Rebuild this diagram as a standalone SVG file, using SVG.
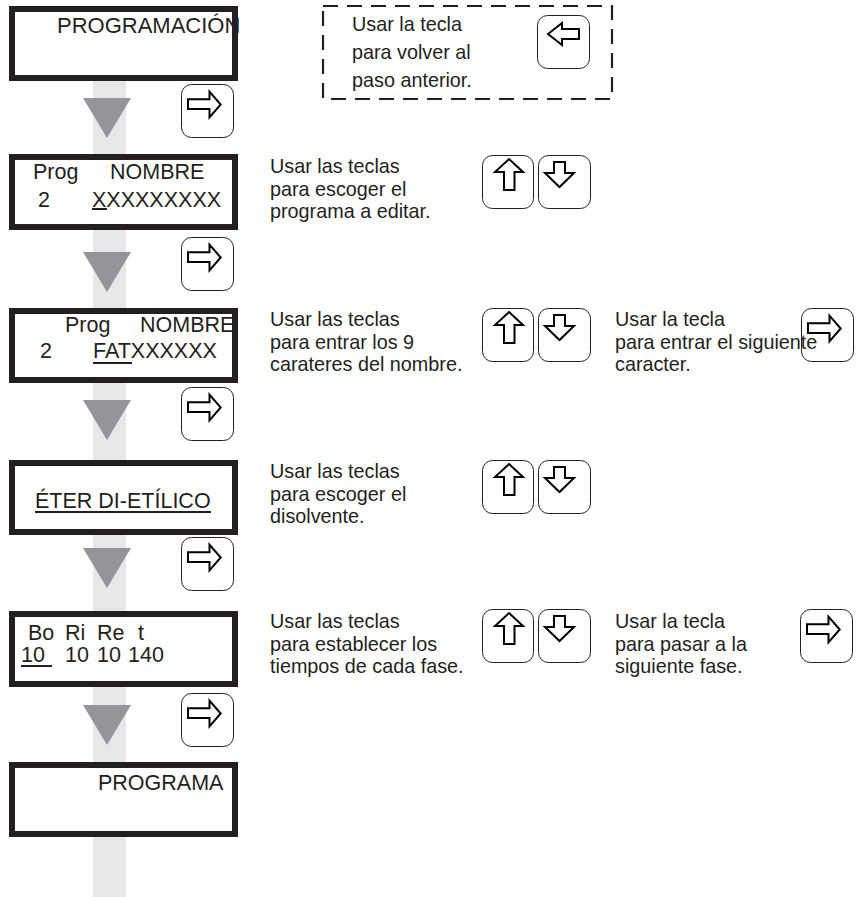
<svg xmlns="http://www.w3.org/2000/svg" width="860" height="897" viewBox="0 0 860 897">
<style>
.lcd{fill:#fff;stroke:#231f20;stroke-width:6}
.lt{font-family:"Liberation Sans",Arial,sans-serif;font-size:21.5px;fill:#231f20}
.ds{font-family:"Liberation Sans",Arial,sans-serif;font-size:19.8px;fill:#231f20}
.ul{stroke:#231f20;stroke-width:2}
.key{fill:#fff;stroke:#231f20;stroke-width:1}
.arw{fill:#fff;stroke:#000;stroke-width:2;stroke-linejoin:miter}
.tri{fill:#939598}
</style>
<defs>
<g id="kR"><rect class="key" x="0.5" y="0.5" width="52" height="53" rx="10"/><path class="arw" d="M7,15.3 H28.5 V7.7 L39.7,20.5 L28.5,33.3 V25 H7 Z"/></g>
<g id="kL"><rect class="key" x="0.5" y="0.5" width="52" height="53" rx="10"/><path class="arw" d="M42,14 H25 V8 L11,19 L25,30 V24 H42 Z"/></g>
<g id="kU"><rect class="key" x="0.5" y="0.5" width="51" height="53" rx="10"/><path class="arw" d="M27,4 L41,17 H32.5 V35 H22 V17 H13 Z"/></g>
<g id="kD"><rect class="key" x="0.5" y="0.5" width="52" height="53" rx="10"/><path class="arw" d="M16,7 H27 V18 H36 L21.5,32 L7,18 H16 Z"/></g>
</defs>
<rect width="860" height="897" fill="#fff"/>
<g id="connectors">
<rect x="93" y="81" width="33" height="816" fill="#e6e7e8"/>
<polygon class="tri" points="83,98 131,98 107,138"/>
<polygon class="tri" points="83,252 131,252 107,292"/>
<polygon class="tri" points="83,400 131,400 107,440"/>
<polygon class="tri" points="83,548 131,548 107,588"/>
<polygon class="tri" points="83,705 131,705 107,745"/>
</g>
<g id="screen1">
<text class="lt" x="57" y="33" style="font-size:22px">PROGRAMACIÓN</text>
<rect class="lcd" x="12" y="9" width="223" height="69" fill="none" style="fill:none"/>
</g>
<g id="screen2">
<rect class="lcd" x="12" y="157" width="223" height="70"/>
<text class="lt" x="33" y="179">Prog</text>
<text class="lt" x="110" y="179">NOMBRE</text>
<text class="lt" x="38" y="207">2</text>
<text class="lt" x="92" y="207">XXXXXXXXX</text>
<line class="ul" x1="92" y1="209" x2="107" y2="209"/>
</g>
<g id="screen3">
<rect class="lcd" x="12" y="311" width="223" height="69"/>
<text class="lt" x="65" y="332">Prog</text>
<text class="lt" x="140" y="332">NOMBRE</text>
<text class="lt" x="40" y="358">2</text>
<text class="lt" x="93" y="358">FATXXXXXX</text>
<line class="ul" x1="93" y1="363" x2="132" y2="363"/>
</g>
<g id="screen4">
<rect class="lcd" x="12" y="463" width="223" height="69"/>
<text class="lt" x="35" y="508">ÉTER DI-ETÍLICO</text>
<line class="ul" x1="35" y1="512" x2="211" y2="512"/>
</g>
<g id="screen5">
<rect class="lcd" x="12" y="614" width="223" height="70"/>
<text class="lt" x="28" y="640">Bo</text>
<text class="lt" x="65" y="640">Ri</text>
<text class="lt" x="97" y="640">Re</text>
<text class="lt" x="138" y="640">t</text>
<text class="lt" x="21" y="662">10</text>
<text class="lt" x="65" y="662">10</text>
<text class="lt" x="97" y="662">10</text>
<text class="lt" x="128" y="662">140</text>
<line class="ul" x1="21" y1="666" x2="52" y2="666"/>
</g>
<g id="screen6">
<rect class="lcd" x="12" y="765" width="223" height="69"/>
<text class="lt" x="98" y="790">PROGRAMA</text>
</g>
<g id="nextkeys">
<use href="#kR" x="181" y="84"/>
<use href="#kR" x="181" y="237"/>
<use href="#kR" x="181" y="387"/>
<use href="#kR" x="181" y="537"/>
<use href="#kR" x="181" y="693"/>
</g>
<g id="backnote">
<rect x="323" y="6" width="289" height="93" fill="none" stroke="#231f20" stroke-width="2.2" stroke-dasharray="15 9"/>
<use href="#kL" x="537" y="15"/>
<text class="ds" x="352" y="31">Usar la tecla</text>
<text class="ds" x="352" y="59">para volver al</text>
<text class="ds" x="352" y="87">paso anterior.</text>
</g>
<g id="note2">
<use href="#kU" x="482" y="155"/>
<use href="#kD" x="538" y="155"/>
<text class="ds" x="270" y="173">Usar las teclas</text>
<text class="ds" x="270" y="196">para escoger el</text>
<text class="ds" x="270" y="218">programa a editar.</text>
</g>
<g id="note3">
<use href="#kU" x="482" y="308"/>
<use href="#kD" x="538" y="308"/>
<text class="ds" x="270" y="326">Usar las teclas</text>
<text class="ds" x="270" y="349">para entrar los 9</text>
<text class="ds" x="270" y="371">carateres del nombre.</text>
</g>
<g id="note3b">
<use href="#kR" x="801" y="308"/>
<text class="ds" x="615" y="326">Usar la tecla</text>
<text class="ds" x="615" y="349">para entrar el siguiente</text>
<text class="ds" x="615" y="371">caracter.</text>
</g>
<g id="note4">
<use href="#kU" x="482" y="460"/>
<use href="#kD" x="538" y="460"/>
<text class="ds" x="270" y="478">Usar las teclas</text>
<text class="ds" x="270" y="501">para escoger el</text>
<text class="ds" x="270" y="523">disolvente.</text>
</g>
<g id="note5">
<use href="#kU" x="482" y="609"/>
<use href="#kD" x="538" y="609"/>
<text class="ds" x="270" y="628">Usar las teclas</text>
<text class="ds" x="270" y="651">para establecer los</text>
<text class="ds" x="270" y="673">tiempos de cada fase.</text>
</g>
<g id="note5b">
<use href="#kR" x="800" y="609"/>
<text class="ds" x="615" y="628">Usar la tecla</text>
<text class="ds" x="615" y="651">para pasar a la</text>
<text class="ds" x="615" y="673">siguiente fase.</text>
</g>
</svg>
